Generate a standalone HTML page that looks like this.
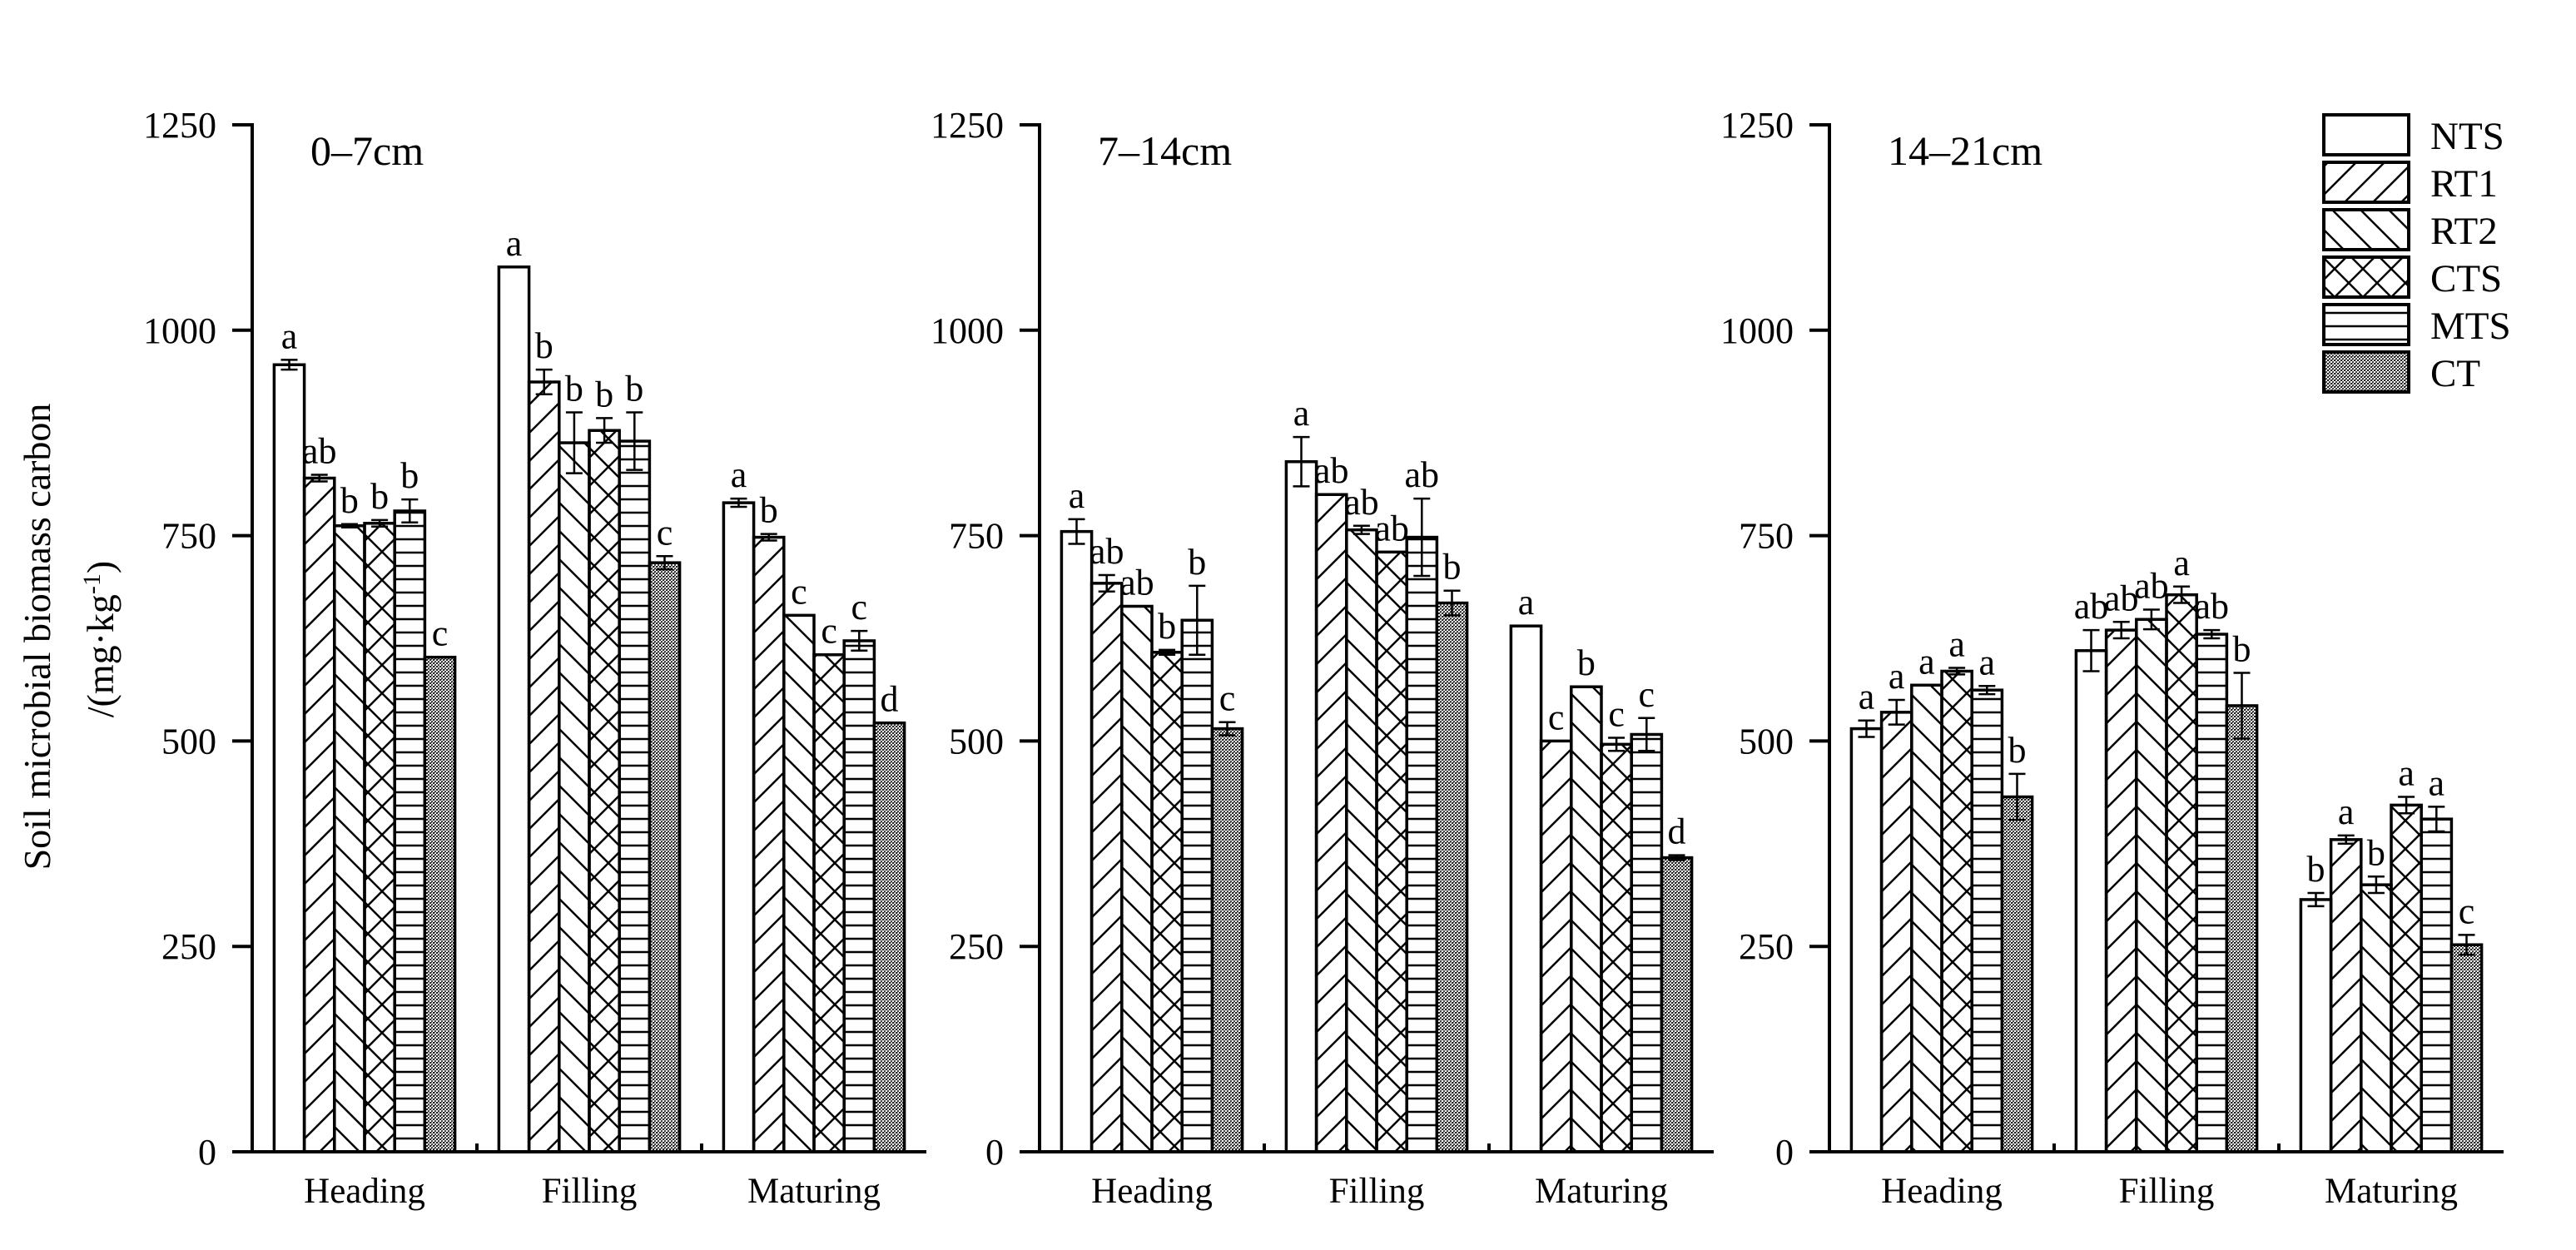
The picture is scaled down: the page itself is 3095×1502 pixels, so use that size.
<!DOCTYPE html>
<html><head><meta charset="utf-8">
<style>
html,body{margin:0;padding:0;background:#fff;}
svg{display:block;font-family:"Liberation Serif",serif;}
</style></head>
<body>
<svg id="chart" width="3095" height="1502" viewBox="0 0 3095 1502" xmlns="http://www.w3.org/2000/svg">
<defs>
<pattern id="p-rt1" patternUnits="userSpaceOnUse" width="34" height="34"><path d="M-2,36 L36,-2 M-19,19 L19,-19 M15,53 L53,15" stroke="#000" stroke-width="2.5"/></pattern>
<pattern id="p-rt2" patternUnits="userSpaceOnUse" width="34" height="34"><path d="M-2,-2 L36,36 M15,-19 L53,19 M-19,15 L19,53" stroke="#000" stroke-width="2.5"/></pattern>
<pattern id="p-cts" patternUnits="userSpaceOnUse" width="34" height="34"><path d="M-2,36 L36,-2 M-19,19 L19,-19 M15,53 L53,15 M-2,-2 L36,36 M15,-19 L53,19 M-19,15 L19,53" stroke="#000" stroke-width="2.5"/></pattern>
<pattern id="p-mts" patternUnits="userSpaceOnUse" width="30" height="16"><path d="M0,8 L30,8" stroke="#000" stroke-width="2.5"/></pattern>
<pattern id="p-ct" patternUnits="userSpaceOnUse" width="4" height="4"><rect width="4" height="4" fill="#fff"/><rect x="0" y="0" width="2" height="2" fill="#222"/><rect x="2" y="2" width="2" height="2" fill="#444"/><rect x="2" y="0" width="1" height="1" fill="#555"/></pattern>
</defs>
<g id="root"></g>
</svg>
<script>
const series = ["NTS","RT1","RT2","CTS","MTS","CT"];
const categories = ["Heading","Filling","Maturing"];
const panelTitles = ["0–7cm","7–14cm","14–21cm"];
const yTicks = [0,250,500,750,1000,1250];
// values[panel][category][series]
const values0 = [[958,820,762,765,780,602],[1077,937,863,878,865,717],[790,748,653,605,622,522]];
const values1 = [[755,692,664,608,647,515],[840,800,757,730,748,668],[640,500,566,496,508,358]];
const values2 = [[515,535,568,585,562,432],[610,635,648,678,630,543],[307,380,325,422,405,252]];
const errors0 = [[6,4,2,4,14,0],[0,15,37,15,35,8],[5,4,0,0,12,0]];
const errors1 = [[15,10,0,3,42,8],[30,0,5,0,47,15],[0,0,0,8,20,3]];
const errors2 = [[10,15,0,4,5,28],[25,10,12,10,5,40],[8,5,10,10,15,12]];
const letters0 = [["a","ab","b","b","b","c"],["a","b","b","b","b","c"],["a","b","c","c","c","d"]];
const letters1 = [["a","ab","ab","b","b","c"],["a","ab","ab","ab","ab","b"],["a","c","b","c","c","d"]];
const letters2 = [["a","a","a","a","a","b"],["ab","ab","ab","a","ab","b"],["b","a","b","a","a","c"]];

const values=[values0,values1,values2], errors=[errors0,errors1,errors2], letters=[letters0,letters1,letters2];
const fills=["#fff","url(#p-rt1)","url(#p-rt2)","url(#p-cts)","url(#p-mts)","url(#p-ct)"];
const NS="http://www.w3.org/2000/svg";
const root=document.getElementById('root');
function mk(tag,attrs,parent,text){const e=document.createElementNS(NS,tag);for(const k in attrs)e.setAttribute(k,attrs[k]);if(text!==undefined)e.textContent=text;(parent||root).appendChild(e);return e;}
const axisX=[303,1249,2198];
const y0=1384, yTop=150, yMax=1250;
const groupW=270, barW=36.2;
function yScale(v){return y0-(v/yMax)*(y0-yTop);}
function xCat(p,i){return axisX[p]+groupW/2+groupW*i;}

for(let p=0;p<3;p++){
  const g=mk('g',{});
  
  
  const ax=axisX[p];
  for(let c=0;c<3;c++){
    const cx=xCat(p,c);
    for(let s=0;s<6;s++){
      const v=values[p][c][s], e=errors[p][c][s];
      const x=cx-3*barW+s*barW, y=yScale(v);
      const r=mk('rect',{x:x,y:y,width:barW,height:y0-y,fill:fills[s],stroke:'#000','stroke-width':3.5},g);
      
      
      const bx=x+barW/2;
      if(e>0){
        const eb=mk('path',{d:`M${bx},${yScale(v+e)} L${bx},${yScale(v-e)} M${bx-10},${yScale(v+e)} L${bx+10},${yScale(v+e)} M${bx-10},${yScale(v-e)} L${bx+10},${yScale(v-e)}`,stroke:'#000','stroke-width':2.5,fill:'none'},g);
        
        
      }
      const t=mk('text',{x:bx,y:yScale(v+e)-14,'text-anchor':'middle','font-size':44},g,letters[p][c][s]);
      
      
    }
    const cl=mk('text',{x:cx,y:1445,'text-anchor':'middle','font-size':43},g,categories[c]);
    
    
  }
  const axes=mk('path',{d:`M${ax},${yTop-2} L${ax},${y0} L${ax+3*groupW},${y0}`,stroke:'#000','stroke-width':4,fill:'none'},g);
  
  
  for(let i=1;i<3;i++){
    const mt=mk('path',{d:`M${ax+groupW*i},${y0} L${ax+groupW*i},${y0-10}`,stroke:'#000','stroke-width':4},g);
    
    
  }
  for(const tv of yTicks){
    const y=yScale(tv);
    const tk=mk('path',{d:`M${ax-24},${y} L${ax},${y}`,stroke:'#000','stroke-width':4},g);
    
    
    const tl=mk('text',{x:ax-43,y:y+15,'text-anchor':'end','font-size':44},g,String(tv));
    
    
  }
  const pt=mk('text',{x:ax+70,y:198,'font-size':50},g,panelTitles[p]);
  
  
}
const yt=mk('text',{x:0,y:0,'text-anchor':'middle','font-size':46,transform:'translate(60,765) rotate(-90)'},root,'Soil microbial biomass carbon');


const yu=mk('text',{x:0,y:0,'text-anchor':'middle','font-size':46,transform:'translate(136,768) rotate(-90)'},root);


mk('tspan',{},yu,'/(mg·kg');
mk('tspan',{dy:-16,'font-size':30},yu,'-1');
mk('tspan',{dy:16},yu,')');
const lg=mk('g',{});


for(let s=0;s<6;s++){
  const y=138+s*57;
  const lr=mk('rect',{x:2792,y:y,width:102,height:48,fill:fills[s],stroke:'#000','stroke-width':4},lg);
  
  
  const lt=mk('text',{x:2920,y:y+41,'font-size':47},lg,series[s]);
  
  
}
</script>
</body></html>
